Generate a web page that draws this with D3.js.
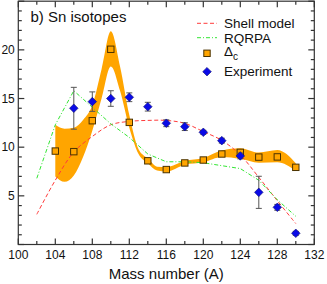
<!DOCTYPE html>
<html><head><meta charset="utf-8">
<script src="https://cdn.jsdelivr.net/npm/d3@7/dist/d3.min.js"></script>
<style>html,body{margin:0;padding:0;background:#fff;}svg{display:block;font-family:"Liberation Sans",Arial,sans-serif;}</style>
</head><body><svg id="c" width="327" height="284"></svg>
<script>
// ---- data ----
const expA = [106,108,110,112,114,116,118,120,122,124,126,128,130];
const expVal = [14.0,14.68,15.0,15.13,14.16,12.46,12.11,11.53,10.67,9.1,5.36,3.82,1.15];
const expErr = [2.15,1.0,0.8,0.45,0.45,0.35,0.4,0.2,0.25,0.3,1.65,0.3,0.2];

const dcA = [104,106,108,110,112,114,116,118,120,122,124,126,128,130];
const dcVal = [9.6,9.54,12.72,20.06,12.55,8.6,7.7,8.38,8.68,9.3,9.47,8.98,9.0,7.93];

const bandA = [104,105,106,107,108,109,110,111,112,113,114,115,116,118,120,122,124,126,128,130];
const bandUpper = [12.3,11.9,12.0,12.8,14.3,18.0,21.9,18.3,13.3,9.8,8.85,8.0,7.95,8.6,8.9,9.65,9.9,9.45,9.7,8.35];
const bandLower = [7.0,6.45,7.1,9.0,11.7,15.0,18.3,15.8,12.0,9.3,8.35,7.6,7.5,8.2,8.45,9.0,8.8,8.4,8.45,7.55];

const shellA = [102,104,106,108,110,112,114,116,118,120,122,124,126,128,130];
const shellVal = [3.1,6.6,9.5,11.1,12.3,12.65,12.75,12.75,12.45,11.6,10.7,9.2,6.9,4.5,2.15];

const rqrpaA = [102,104,106,108,110,112,114,116,118,120,122,124,126,128,130];
const rqrpaVal = [6.8,12.3,15.8,14.1,12.4,11.0,9.3,8.5,8.5,8.4,8.1,7.8,6.6,4.6,2.9];

const xTicks = [100,104,108,112,116,120,124,128,132];
const yTicks = [5,10,15,20];
const title = "b) Sn isotopes";
const xLabel = "Mass number (A)";
const legendNames = ["Shell model","RQRPA","Δ","Experiment"];

// ---- chart ----
const svg = d3.select("#c");
const L = 18.3, R = 314.3, T = 1.2, B = 244.5;
const x = d3.scaleLinear().domain([100,132]).range([L,R]);
const y = d3.scaleLinear().domain([0,25]).range([B,T]);
const axisCol = "#333";

// band
const area = d3.area().x((d,i)=>x(bandA[i])).y0((d,i)=>y(bandLower[i])).y1((d,i)=>y(bandUpper[i])).curve(d3.curveMonotoneX);
svg.append("path").datum(bandA).attr("d", area).attr("fill","#FFA500").attr("stroke","none");

// lines
const shellLine = d3.line().x((d,i)=>x(shellA[i])).y((d,i)=>y(shellVal[i])).curve(d3.curveCatmullRom);
svg.append("path").datum(shellA).attr("d", shellLine).attr("fill","none").attr("stroke","#ff3b3b").attr("stroke-width",1).attr("stroke-dasharray","4,2.5");
const rqLine = d3.line().x((d,i)=>x(rqrpaA[i])).y((d,i)=>y(rqrpaVal[i])).curve(d3.curveLinear);
svg.append("path").datum(rqrpaA).attr("d", rqLine).attr("fill","none").attr("stroke","#33e633").attr("stroke-width",1).attr("stroke-dasharray","4,2,1,2");

// squares
svg.append("g").selectAll("rect").data(dcA).join("rect")
  .attr("x",(d)=>x(d)-3.2).attr("y",(d,i)=>y(dcVal[i])-3.2).attr("width",6.4).attr("height",6.4)
  .attr("fill","#FFA500").attr("stroke","#4a3200").attr("stroke-width",1);

// error bars
const eb = svg.append("g").attr("stroke","#555").attr("stroke-width",1);
expA.forEach((a,i)=>{
  const cx = x(a), y1 = y(expVal[i]+expErr[i]), y2 = y(expVal[i]-expErr[i]);
  eb.append("line").attr("x1",cx).attr("x2",cx).attr("y1",y1).attr("y2",y2);
  eb.append("line").attr("x1",cx-3).attr("x2",cx+3).attr("y1",y1).attr("y2",y1);
  eb.append("line").attr("x1",cx-3).attr("x2",cx+3).attr("y1",y2).attr("y2",y2);
});
// diamonds
const dia = (cx,cy,r)=>`M${cx},${cy-r}L${cx+r},${cy}L${cx},${cy+r}L${cx-r},${cy}Z`;
svg.append("g").selectAll("path").data(expA).join("path")
  .attr("d",(d,i)=>dia(x(d),y(expVal[i]),4.3))
  .attr("fill","#0a0ae6").attr("stroke","#101070").attr("stroke-width",0.6);

// frame & ticks
const fr = svg.append("g").attr("stroke",axisCol).attr("stroke-width",1.2).attr("fill","none");
fr.append("rect").attr("x",L).attr("y",T).attr("width",R-L).attr("height",B-T);
d3.range(100,133,2).forEach(v=>{
  const len = (v%4===0)?6:3.5;
  fr.append("line").attr("x1",x(v)).attr("x2",x(v)).attr("y1",B).attr("y2",B-len);
  fr.append("line").attr("x1",x(v)).attr("x2",x(v)).attr("y1",T).attr("y2",T+len);
});
d3.range(0,26,1).forEach(v=>{
  const len = (v%5===0)?6:3.5;
  fr.append("line").attr("y1",y(v)).attr("y2",y(v)).attr("x1",L).attr("x2",L+len);
  fr.append("line").attr("y1",y(v)).attr("y2",y(v)).attr("x1",R).attr("x2",R-len);
});

// tick labels
svg.append("g").selectAll("text").data(xTicks).join("text")
  .attr("x",d=>x(d)).attr("y",B+14).attr("text-anchor","middle")
  .attr("font-size",12).attr("fill","#111").text(d=>d);
svg.append("g").selectAll("text").data(yTicks).join("text")
  .attr("x",L-3.5).attr("y",d=>y(d)+4.3).attr("text-anchor","end")
  .attr("font-size",12).attr("fill","#111").text(d=>d);

// axis label
svg.append("text").attr("x",(L+R)/2).attr("y",279).attr("text-anchor","middle")
  .attr("font-size",15).attr("fill","#111").text(xLabel);

// title
svg.append("text").attr("x",30.5).attr("y",21.5).attr("font-size",15).attr("fill","#111").text(title);

// legend
const lg = svg.append("g");
const lx1 = 197, lx2 = 217, tx = 224;
const rows = [23.3,37.7,53.3,71.7];
lg.append("line").attr("x1",lx1).attr("x2",lx2).attr("y1",rows[0]).attr("y2",rows[0]).attr("stroke","#ff3b3b").attr("stroke-dasharray","4,2.5");
lg.append("line").attr("x1",lx1).attr("x2",lx2).attr("y1",rows[1]).attr("y2",rows[1]).attr("stroke","#33e633").attr("stroke-dasharray","4,2,1,2");
lg.append("rect").attr("x",207-3.2).attr("y",rows[2]-3.2).attr("width",6.4).attr("height",6.4).attr("fill","#FFA500").attr("stroke","#4a3200");
lg.append("path").attr("d",dia(207,rows[3],4.3)).attr("fill","#0a0ae6").attr("stroke","#101070").attr("stroke-width",0.6);
lg.append("text").attr("x",tx).attr("y",rows[0]+5).attr("font-size",13.5).attr("fill","#111").text(legendNames[0]);
lg.append("text").attr("x",tx).attr("y",rows[1]+5).attr("font-size",13.5).attr("fill","#111").text(legendNames[1]);
const dt = lg.append("text").attr("x",tx).attr("y",rows[2]+3).attr("font-size",13.5).attr("fill","#111");
dt.append("tspan").text(legendNames[2]);
dt.append("tspan").attr("dy",4).attr("font-size",10).text("c");
lg.append("text").attr("x",tx).attr("y",rows[3]+4.5).attr("font-size",13.5).attr("fill","#111").text(legendNames[3]);
</script></body></html>
